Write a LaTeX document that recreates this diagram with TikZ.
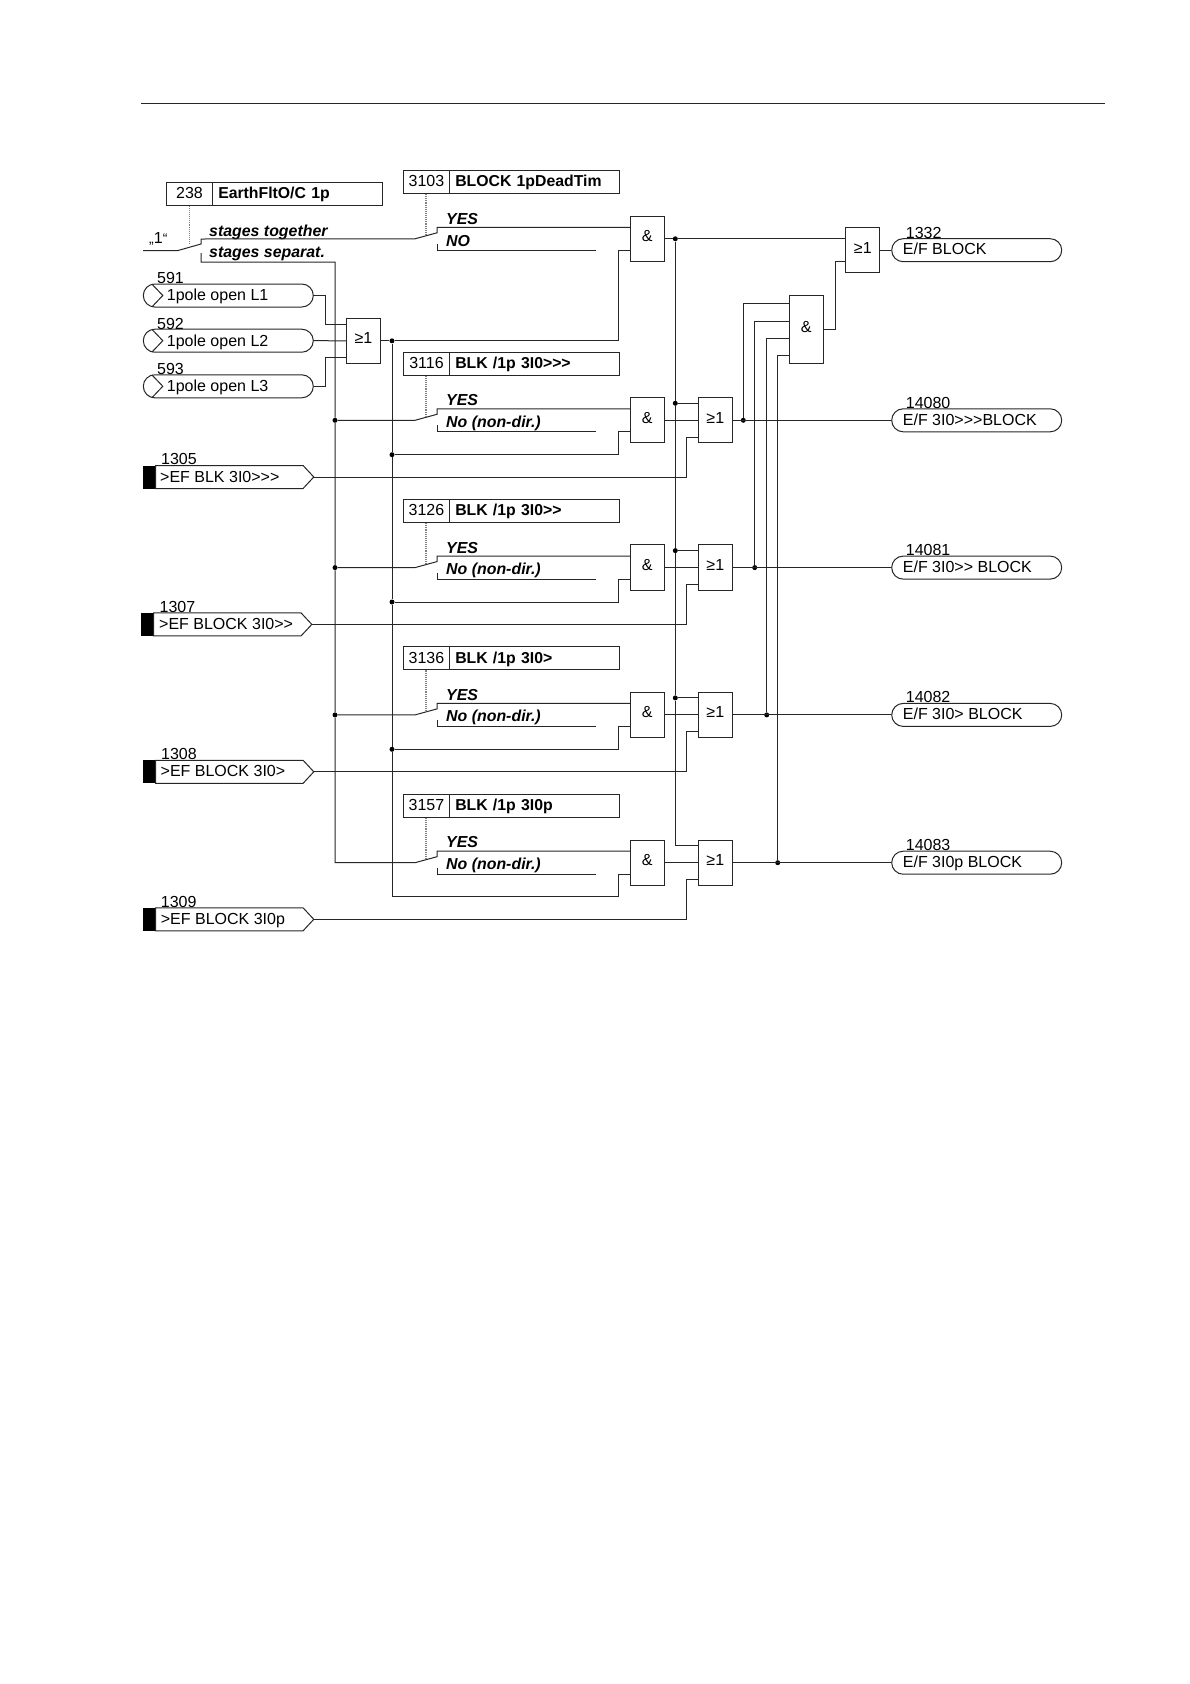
\documentclass[tikz,border=0pt]{standalone}
\usepackage{fontspec}
\setmainfont{Liberation Sans}
\usetikzlibrary{shapes.misc,shapes.symbols}

\newcommand{\ang}{>\kern0pt}

\tikzset{
  wire/.style = {draw = black!85, line width = 1pt},
  gatebox/.style = {wire, minimum width = 34pt, minimum height = 45.3pt, inner sep = 0pt, text height = 11pt, text depth = 5pt},
  numcell/.style = {wire, text = black, minimum width = 46pt, minimum height = 23pt, inner sep = 0pt, text height = 12pt, text depth = 2.6pt, anchor = west},
  namecell/.style = {wire, text = black, font = \fontsize{15.8}{18}\selectfont\bfseries, text width = 158.5pt, inner xsep = 5.75pt, inner ysep = 0pt, minimum height = 23pt, text height = 12pt, text depth = 2.6pt, align = left, anchor = west},
  pill/.style = {wire, rounded rectangle, minimum width = 170pt, minimum height = 23pt, inner sep = 0pt},
  sig/.style = {wire, signal, signal to = east, signal pointer angle = 94, minimum width = 158.3pt, minimum height = 23pt, inner sep = 0pt, anchor = west},
  tag/.style = {fill = black, minimum width = 12pt, minimum height = 23pt, inner sep = 0pt, anchor = east},
  lbl/.style = {anchor = base west, inner sep = 0pt},
  opt/.style = {lbl, font = \fontsize{15.9}{18}\selectfont\bfseries\itshape},
  dot/.style = {circle, fill = black, minimum size = 5pt, inner sep = 0pt},
  setdash/.style = {draw = gray, line width = 1.1pt, densely dotted}
}

\begin{document}
\begin{tikzpicture}[x = 1pt, y = -1pt, every node/.style = {font = \fontsize{16}{18}\selectfont}]
\useasboundingbox (0,0) rectangle (1190,1684);
\coordinate (r1) at (141,103.7);
\coordinate (r2) at (1105,103.7);
\draw [wire] (r1) -- (r2);

% settings
\node[numcell] (n238) at (166,193.5) {238\hspace{8pt}};
\node[namecell] (m238) at (212,193.5) {EarthFltO/C 1p};
\node[numcell] (n3103) at (403,182) {3103};
\node[namecell] (m3103) at (449,182) {BLOCK 1pDeadTim};
\node[numcell] (n3116) at (403,363.8) {3116};
\node[namecell] (m3116) at (449,363.8) {BLK /1p 3I0\ang\ang>};
\node[numcell] (n3126) at (403,511.1) {3126};
\node[namecell] (m3126) at (449,511.1) {BLK /1p 3I0\ang>};
\node[numcell] (n3136) at (403,658.4) {3136};
\node[namecell] (m3136) at (449,658.4) {BLK /1p 3I0>};
\node[numcell] (n3157) at (403,805.9) {3157};
\node[namecell] (m3157) at (449,805.9) {BLK /1p 3I0p};

% option texts
\node[lbl] (one) at (149,243.7) {{\fontsize{14}{16}\selectfont „}1{\fontsize{14}{16}\selectfont “}};
\node[opt] (t1) at (209,236) {stages together};
\node[opt] (t2) at (209,257.3) {stages separat.};
\node[opt] (y0) at (446,224) {YES};
\node[opt] (o0) at (446,246) {NO};
\node[opt] (y1) at (446,405.7) {YES};
\node[opt] (o1) at (446,427) {No (non-dir.)};
\node[opt] (y2) at (446,553) {YES};
\node[opt] (o2) at (446,574.3) {No (non-dir.)};
\node[opt] (y3) at (446,700.3) {YES};
\node[opt] (o3) at (446,721.6) {No (non-dir.)};
\node[opt] (y4) at (446,847.7) {YES};
\node[opt] (o4) at (446,869) {No (non-dir.)};

% 1pole inputs
\node[pill] (p591) at (228.3,295.5) {};
\node[pill] (p592) at (228.3,340.7) {};
\node[pill] (p593) at (228.3,386.3) {};
\draw [wire] ([xshift = 9pt, yshift = 11.5pt]p591.west) -- ([xshift = 20pt]p591.west) -- ([xshift = 9pt, yshift = -11.5pt]p591.west);
\draw [wire] ([xshift = 9pt, yshift = 11.5pt]p592.west) -- ([xshift = 20pt]p592.west) -- ([xshift = 9pt, yshift = -11.5pt]p592.west);
\draw [wire] ([xshift = 9pt, yshift = 11.5pt]p593.west) -- ([xshift = 20pt]p593.west) -- ([xshift = 9pt, yshift = -11.5pt]p593.west);
\node[lbl] (a591) at (157,283.7) {591};
\node[lbl] (a592) at (157,329) {592};
\node[lbl] (a593) at (157,374.7) {593};
\node[lbl] (b591) at (166.7,300.7) {1pole open L1};
\node[lbl] (b592) at (166.7,346) {1pole open L2};
\node[lbl] (b593) at (166.7,391.6) {1pole open L3};

% binary inputs
\node[tag] (k1305) at (155,477) {};
\node[sig] (v1305) at (155,477) {};
\node[tag] (k1307) at (153,624.4) {};
\node[sig] (v1307) at (153,624.4) {};
\node[tag] (k1308) at (155,771.8) {};
\node[sig] (v1308) at (155,771.8) {};
\node[tag] (k1309) at (155,919.3) {};
\node[sig] (v1309) at (155,919.3) {};
\node[lbl] (a1305) at (161,464.8) {1305};
\node[lbl] (a1307) at (159.5,612.2) {1307};
\node[lbl] (a1308) at (161,759.6) {1308};
\node[lbl] (a1309) at (160.7,907.3) {1309};
\node[lbl] (b1305) at (160,482) {>EF BLK 3I0\ang\ang>};
\node[lbl] (b1307) at (159,629.4) {>EF BLOCK 3I0\ang>};
\node[lbl] (b1308) at (160.5,776.8) {>EF BLOCK 3I0>};
\node[lbl] (b1309) at (160.7,924.3) {>EF BLOCK 3I0p};

% gates
\node[gatebox] (or0) at (363.5,340.8) {≥1};
\node[gatebox] (and0) at (647.3,238.8) {\&};
\node[gatebox] (and1) at (647.3,420.3) {\&};
\node[gatebox] (and2) at (647.3,567.6) {\&};
\node[gatebox] (and3) at (647.3,714.9) {\&};
\node[gatebox] (and4) at (647.3,862.7) {\&};
\node[gatebox] (or1) at (715.3,420.3) {≥1};
\node[gatebox] (or2) at (715.3,567.6) {≥1};
\node[gatebox] (or3) at (715.3,714.9) {≥1};
\node[gatebox] (or4) at (715.3,862.7) {≥1};
\node[gatebox, minimum height = 67.6pt] (and5) at (806.3,329.5) {\&};
\node[gatebox] (or5) at (862.8,250.2) {≥1};

% outputs
\node[pill] (p1332) at (976.7,250.2) {};
\node[pill] (p14080) at (976.7,420.3) {};
\node[pill] (p14081) at (976.7,567.6) {};
\node[pill] (p14082) at (976.7,714.9) {};
\node[pill] (p14083) at (976.7,862.7) {};
\node[lbl] (a1332) at (905.7,238.3) {1332};
\node[lbl] (a14080) at (905.7,408.3) {14080};
\node[lbl] (a14081) at (905.7,555.6) {14081};
\node[lbl] (a14082) at (905.7,702.9) {14082};
\node[lbl] (a14083) at (905.7,850.7) {14083};
\node[lbl] (b1332) at (902.7,254.6) {E/F BLOCK};
\node[lbl] (b14080) at (902.7,425) {E/F 3I0\ang\ang>BLOCK};
\node[lbl] (b14081) at (902.7,572.3) {E/F 3I0\ang> BLOCK};
\node[lbl] (b14082) at (902.7,719.6) {E/F 3I0> BLOCK};
\node[lbl] (b14083) at (902.7,867.7) {E/F 3I0p BLOCK};

% junctions
\node[dot] (d1) at (335,420.3) {};
\node[dot] (d2) at (335,567.6) {};
\node[dot] (d3) at (335,714.9) {};
\node[dot] (e0) at (392,340.8) {};
\node[dot] (e1) at (392,454.7) {};
\node[dot] (e2) at (392,602) {};
\node[dot] (e3) at (392,749.3) {};
\node[dot] (c0) at (675.3,238.8) {};
\node[dot] (c1) at (675.3,403.3) {};
\node[dot] (c2) at (675.3,550.6) {};
\node[dot] (c3) at (675.3,697.9) {};
\node[dot] (q1) at (743.3,420.3) {};
\node[dot] (q2) at (754.7,567.6) {};
\node[dot] (q3) at (766.7,714.9) {};
\node[dot] (q4) at (777.7,862.7) {};

% switches
\coordinate (s9) at (201,250.5);
\coordinate (s0) at (437,238.8);
\coordinate (s1) at (437,420.3);
\coordinate (s2) at (437,567.6);
\coordinate (s3) at (437,714.9);
\coordinate (s4) at (437,862.7);
\coordinate (w1) at (143,250.5);
\coordinate (w2) at (178,250.5);
\coordinate (w3) at (189.3,245);
\draw [wire] (w1) -- (w2) -- ([yshift = 6.5pt]s9) -- ([yshift = 11.5pt]s9) -- ([xshift = -22pt]s0) -- ([yshift = 6pt]s0) -- ([yshift = 11.5pt]s0) -- ([yshift = 11.5pt]and0.west);
\draw [wire] ([yshift = -2.5pt]s9) -- ([yshift = -11.5pt]s9) -| (d1) -- (d2) -- (d3) |- ([xshift = -22pt]s4) -- ([yshift = 6pt]s4) -- ([yshift = 11.5pt]s4) -- ([yshift = 11.5pt]and4.west);
\draw [wire] (d1) -- ([xshift = -22pt]s1) -- ([yshift = 6pt]s1) -- ([yshift = 11.5pt]s1) -- ([yshift = 11.5pt]and1.west);
\draw [wire] (d2) -- ([xshift = -22pt]s2) -- ([yshift = 6pt]s2) -- ([yshift = 11.5pt]s2) -- ([yshift = 11.5pt]and2.west);
\draw [wire] (d3) -- ([xshift = -22pt]s3) -- ([yshift = 6pt]s3) -- ([yshift = 11.5pt]s3) -- ([yshift = 11.5pt]and3.west);
\draw [wire] ([yshift = -5pt]s0) -- ([yshift = -11.4pt]s0) -- ++(159,0);
\draw [wire] ([yshift = -5pt]s1) -- ([yshift = -11.4pt]s1) -- ++(159,0);
\draw [wire] ([yshift = -5pt]s2) -- ([yshift = -11.4pt]s2) -- ++(159,0);
\draw [wire] ([yshift = -5pt]s3) -- ([yshift = -11.4pt]s3) -- ++(159,0);
\draw [wire] ([yshift = -5pt]s4) -- ([yshift = -11.4pt]s4) -- ++(159,0);
\draw [setdash] (n238.south -| w3) -- (w3);
\draw [setdash] ([xshift = -11pt]s0 |- n3103.south) -- ([xshift = -11pt, yshift = 3pt]s0);
\draw [setdash] ([xshift = -11pt]s1 |- n3116.south) -- ([xshift = -11pt, yshift = 3pt]s1);
\draw [setdash] ([xshift = -11pt]s2 |- n3126.south) -- ([xshift = -11pt, yshift = 3pt]s2);
\draw [setdash] ([xshift = -11pt]s3 |- n3136.south) -- ([xshift = -11pt, yshift = 3pt]s3);
\draw [setdash] ([xshift = -11pt]s4 |- n3157.south) -- ([xshift = -11pt, yshift = 3pt]s4);

% wiring of the left part
\draw [wire] (p591.east) -- ++(11.7,0) |- ([yshift = 16.8pt]or0.west);
\draw [wire] (p592.east) -- (or0.west);
\draw [wire] (p593.east) -- ++(11.7,0) |- ([yshift = -16.8pt]or0.west);
\draw [wire] (or0.east) -- (e0) -| ([xshift = -11.3pt, yshift = -11.4pt]and0.west) -- ([yshift = -11.4pt]and0.west);
\draw [wire] (e0) -- (e1) -- (e2) -- (e3) |- ([yshift = -34pt]s4) -| ([xshift = -11.3pt, yshift = -11.4pt]and4.west) -- ([yshift = -11.4pt]and4.west);
\draw [wire] (e1) -| ([xshift = -11.3pt, yshift = -11.4pt]and1.west) -- ([yshift = -11.4pt]and1.west);
\draw [wire] (e2) -| ([xshift = -11.3pt, yshift = -11.4pt]and2.west) -- ([yshift = -11.4pt]and2.west);
\draw [wire] (e3) -| ([xshift = -11.3pt, yshift = -11.4pt]and3.west) -- ([yshift = -11.4pt]and3.west);

% wiring of the right part
\draw [wire] (and0.east) -- (c0) -- ([yshift = 11.4pt]or5.west);
\draw [wire] (c0) -- (c1) -- (c2) -- (c3) |- ([yshift = 17pt]or4.west);
\draw [wire] (c1) -- ([yshift = 17pt]or1.west);
\draw [wire] (c2) -- ([yshift = 17pt]or2.west);
\draw [wire] (c3) -- ([yshift = 17pt]or3.west);
\draw [wire] (and1.east) -- (or1.west);
\draw [wire] (and2.east) -- (or2.west);
\draw [wire] (and3.east) -- (or3.west);
\draw [wire] (and4.east) -- (or4.west);
\draw [wire] (v1305.east) -| ([xshift = -11.6pt, yshift = -17pt]or1.west) -- ([yshift = -17pt]or1.west);
\draw [wire] (v1307.east) -| ([xshift = -11.6pt, yshift = -17pt]or2.west) -- ([yshift = -17pt]or2.west);
\draw [wire] (v1308.east) -| ([xshift = -11.6pt, yshift = -17pt]or3.west) -- ([yshift = -17pt]or3.west);
\draw [wire] (v1309.east) -| ([xshift = -11.6pt, yshift = -17pt]or4.west) -- ([yshift = -17pt]or4.west);
\draw [wire] (or1.east) -- (p14080.west);
\draw [wire] (or2.east) -- (p14081.west);
\draw [wire] (or3.east) -- (p14082.west);
\draw [wire] (or4.east) -- (p14083.west);
\draw [wire] (q1) |- ([yshift = 25.8pt]and5.west);
\draw [wire] (q2) |- ([yshift = 8.2pt]and5.west);
\draw [wire] (q3) |- ([yshift = -8.8pt]and5.west);
\draw [wire] (q4) |- ([yshift = -25.5pt]and5.west);
\draw [wire] (and5.east) -- ++(11.4,0) |- ([yshift = -11.1pt]or5.west);
\draw [wire] (or5.east) -- (p1332.west);
\end{tikzpicture}
\end{document}
